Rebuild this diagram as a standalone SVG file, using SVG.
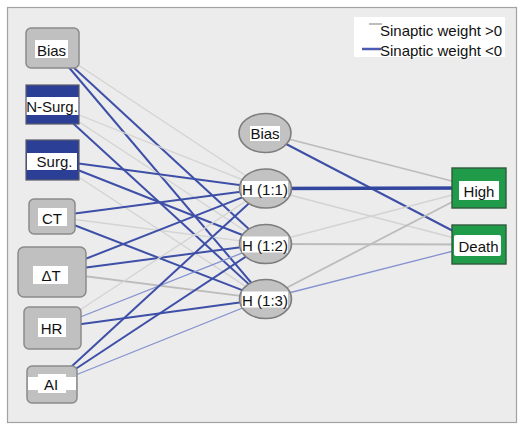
<svg xmlns="http://www.w3.org/2000/svg" width="520" height="425" viewBox="0 0 520 425">
  <style>
    .lbl { font-family: "Liberation Sans", Arial, sans-serif; font-size: 15px; fill: #111; text-anchor: middle; }
    .leg { font-family: "Liberation Sans", Arial, sans-serif; font-size: 15px; fill: #111; }
    .pin { fill: #c0c0c0; stroke: #8a8a8a; stroke-width: 1.5; }
    .pin-blue { fill: #2b3f97; stroke: #5a5a6a; stroke-width: 1.2; }
    .hid { fill: #c2c2c2; stroke: #7d7d7d; stroke-width: 1.6; }
    .out { fill: #1f9b49; stroke: #2f5a3d; stroke-width: 1.4; }
    .tag { fill: #ffffff; }
    .w-pos-faint { stroke: #d3d3d3; stroke-width: 1.3; fill: none; }
    .w-pos { stroke: #bcbcbc; stroke-width: 1.8; fill: none; }
    .w-neg { stroke: #3d4fa7; stroke-width: 2; fill: none; }
    .w-neg-strong { stroke: #33469e; stroke-width: 3.4; fill: none; }
    .w-neg-light { stroke: #8592cf; stroke-width: 1.3; fill: none; }
  </style>

  <!-- panel -->
  <rect x="7.5" y="7.5" width="509" height="415" fill="#ececec" stroke="#a3a3a3" stroke-width="1.2"/>

  <!-- legend -->
  <g id="legend">
    <rect x="354" y="17" width="151" height="40" fill="#ffffff"/>
    <line x1="369" y1="24" x2="382" y2="24" stroke="#bcbcbc" stroke-width="2"/>
    <line x1="362" y1="49" x2="381" y2="49" stroke="#4a5bb0" stroke-width="2.5"/>
    <text class="leg" x="380" y="36">Sinaptic weight &gt;0</text>
    <text class="leg" x="380" y="56">Sinaptic weight &lt;0</text>
  </g>

  <!-- synaptic weights, centre to centre -->
  <g id="connectors">
    <!-- input bias -->
    <line class="w-pos-faint" x1="52.5" y1="48" x2="265" y2="188.5"/>
    <line class="w-neg" x1="52.5" y1="48" x2="265" y2="244"/>
    <line class="w-neg" x1="52.5" y1="48" x2="265" y2="299"/>
    <!-- N-Surg. -->
    <line class="w-pos-faint" x1="52.5" y1="104.5" x2="265" y2="188.5"/>
    <line class="w-pos-faint" x1="52.5" y1="104.5" x2="265" y2="244"/>
    <line class="w-neg" x1="52.5" y1="104.5" x2="265" y2="299" stroke="#2e4199" stroke-width="2.4"/>
    <!-- Surg. -->
    <line class="w-neg" x1="52.5" y1="160" x2="265" y2="188.5" stroke-width="2.2"/>
    <line class="w-neg" x1="52.5" y1="160" x2="265" y2="244"/>
    <line class="w-pos-faint" x1="52.5" y1="160" x2="265" y2="299"/>
    <!-- CT -->
    <line class="w-neg" x1="52" y1="216.5" x2="265" y2="188.5"/>
    <line class="w-pos-faint" x1="52" y1="216.5" x2="265" y2="244"/>
    <line class="w-neg" x1="52" y1="216.5" x2="265" y2="299" stroke-width="2.2"/>
    <!-- delta T -->
    <line class="w-neg" x1="52" y1="272" x2="265" y2="188.5"/>
    <line class="w-neg" x1="52" y1="272" x2="265" y2="244"/>
    <line class="w-pos" x1="52" y1="272" x2="265" y2="299" stroke-width="1.5"/>
    <!-- HR -->
    <line class="w-pos-faint" x1="52.5" y1="328" x2="265" y2="188.5"/>
    <line class="w-neg-light" x1="52.5" y1="328" x2="265" y2="244"/>
    <line class="w-neg" x1="52.5" y1="328" x2="265" y2="299" stroke-width="2.3"/>
    <!-- AI -->
    <line class="w-neg" x1="52" y1="384.5" x2="265" y2="188.5"/>
    <line class="w-neg" x1="52" y1="384.5" x2="265" y2="244"/>
    <line class="w-neg-light" x1="52" y1="384.5" x2="265" y2="299"/>
    <!-- hidden bias -->
    <line class="w-pos" x1="265" y1="133" x2="479" y2="188"/>
    <line class="w-neg" x1="265" y1="133" x2="479" y2="244.5"/>
    <!-- H (1:1) -->
    <line class="w-neg-strong" x1="265" y1="188.5" x2="479" y2="188"/>
    <line class="w-pos-faint" x1="265" y1="188.5" x2="479" y2="244.5"/>
    <!-- H (1:2) -->
    <line class="w-pos-faint" x1="265" y1="244" x2="479" y2="188"/>
    <line class="w-pos" x1="265" y1="244" x2="479" y2="244.5" stroke="#c6c6c6" stroke-width="1.5"/>
    <!-- H (1:3) -->
    <line class="w-pos" x1="265" y1="299" x2="479" y2="188"/>
    <line class="w-neg-light" x1="265" y1="299" x2="479" y2="244.5"/>
  </g>

  <!-- input layer -->
  <g id="in-bias">
    <rect class="pin" x="26" y="28" width="53" height="40" rx="5" fill="#c6c6c6"/>
    <rect class="tag" x="35" y="40" width="33" height="18"/>
    <text class="lbl" x="51.5" y="56">Bias</text>
  </g>
  <g id="in-nsurg">
    <rect class="pin-blue" x="26" y="85" width="53" height="39"/>
    <rect class="tag" x="26.6" y="97" width="51.8" height="18"/>
    <text class="lbl" x="52" y="112">N-Surg.</text>
  </g>
  <g id="in-surg">
    <rect class="pin-blue" x="26" y="140" width="53" height="40"/>
    <rect class="tag" x="27" y="153" width="50" height="17"/>
    <text class="lbl" x="54.5" y="167">Surg.</text>
  </g>
  <g id="in-ct">
    <rect class="pin" x="29" y="199" width="46" height="35" rx="5" fill="#bbbbbb"/>
    <rect class="tag" x="38" y="208" width="29" height="18"/>
    <text class="lbl" x="52" y="224">CT</text>
  </g>
  <g id="in-dt">
    <rect class="pin" x="18" y="247" width="68" height="50" rx="6" fill="#bbbbbb" stroke-width="2"/>
    <rect class="tag" x="33" y="266" width="35" height="18"/>
    <text class="lbl" x="51" y="281">ΔT</text>
  </g>
  <g id="in-hr">
    <rect class="pin" x="24" y="307" width="57" height="42" rx="5" fill="#bbbbbb"/>
    <rect class="tag" x="38" y="318" width="28" height="19"/>
    <text class="lbl" x="51.5" y="334">HR</text>
  </g>
  <g id="in-ai">
    <rect class="pin" x="27" y="366" width="50" height="37" rx="5" fill="#bbbbbb"/>
    <rect class="tag" x="28" y="377" width="48" height="13"/>
    <rect class="tag" x="38" y="374" width="28" height="19"/>
    <text class="lbl" x="51" y="390">AI</text>
  </g>

  <!-- hidden layer -->
  <g id="hid-bias">
    <ellipse class="hid" cx="265" cy="133" rx="26" ry="19.5"/>
    <rect class="tag" x="250" y="126" width="30" height="15"/>
    <text class="lbl" x="265" y="139">Bias</text>
  </g>
  <g id="hid-1">
    <ellipse class="hid" cx="265.5" cy="188.5" rx="26" ry="19.5"/>
    <rect class="tag" x="242" y="181" width="46" height="16"/>
    <text class="lbl" x="265" y="195">H (1:1)</text>
  </g>
  <g id="hid-2">
    <ellipse class="hid" cx="265.5" cy="244" rx="26" ry="19.5"/>
    <rect class="tag" x="242" y="236.5" width="46" height="16"/>
    <text class="lbl" x="265" y="250.5">H (1:2)</text>
  </g>
  <g id="hid-3">
    <ellipse class="hid" cx="265.5" cy="299" rx="26" ry="19.5"/>
    <rect class="tag" x="242" y="291.5" width="46" height="16"/>
    <text class="lbl" x="265" y="305.5">H (1:3)</text>
  </g>

  <!-- output layer -->
  <g id="out-high">
    <rect class="out" x="452" y="168" width="54" height="40"/>
    <rect class="tag" x="459" y="181" width="40" height="19"/>
    <text class="lbl" x="479" y="197">High</text>
  </g>
  <g id="out-death">
    <rect class="out" x="452" y="225" width="54" height="39"/>
    <rect class="tag" x="454" y="235" width="47" height="21" rx="2"/>
    <text class="lbl" x="478.5" y="251.5">Death</text>
  </g>
</svg>
